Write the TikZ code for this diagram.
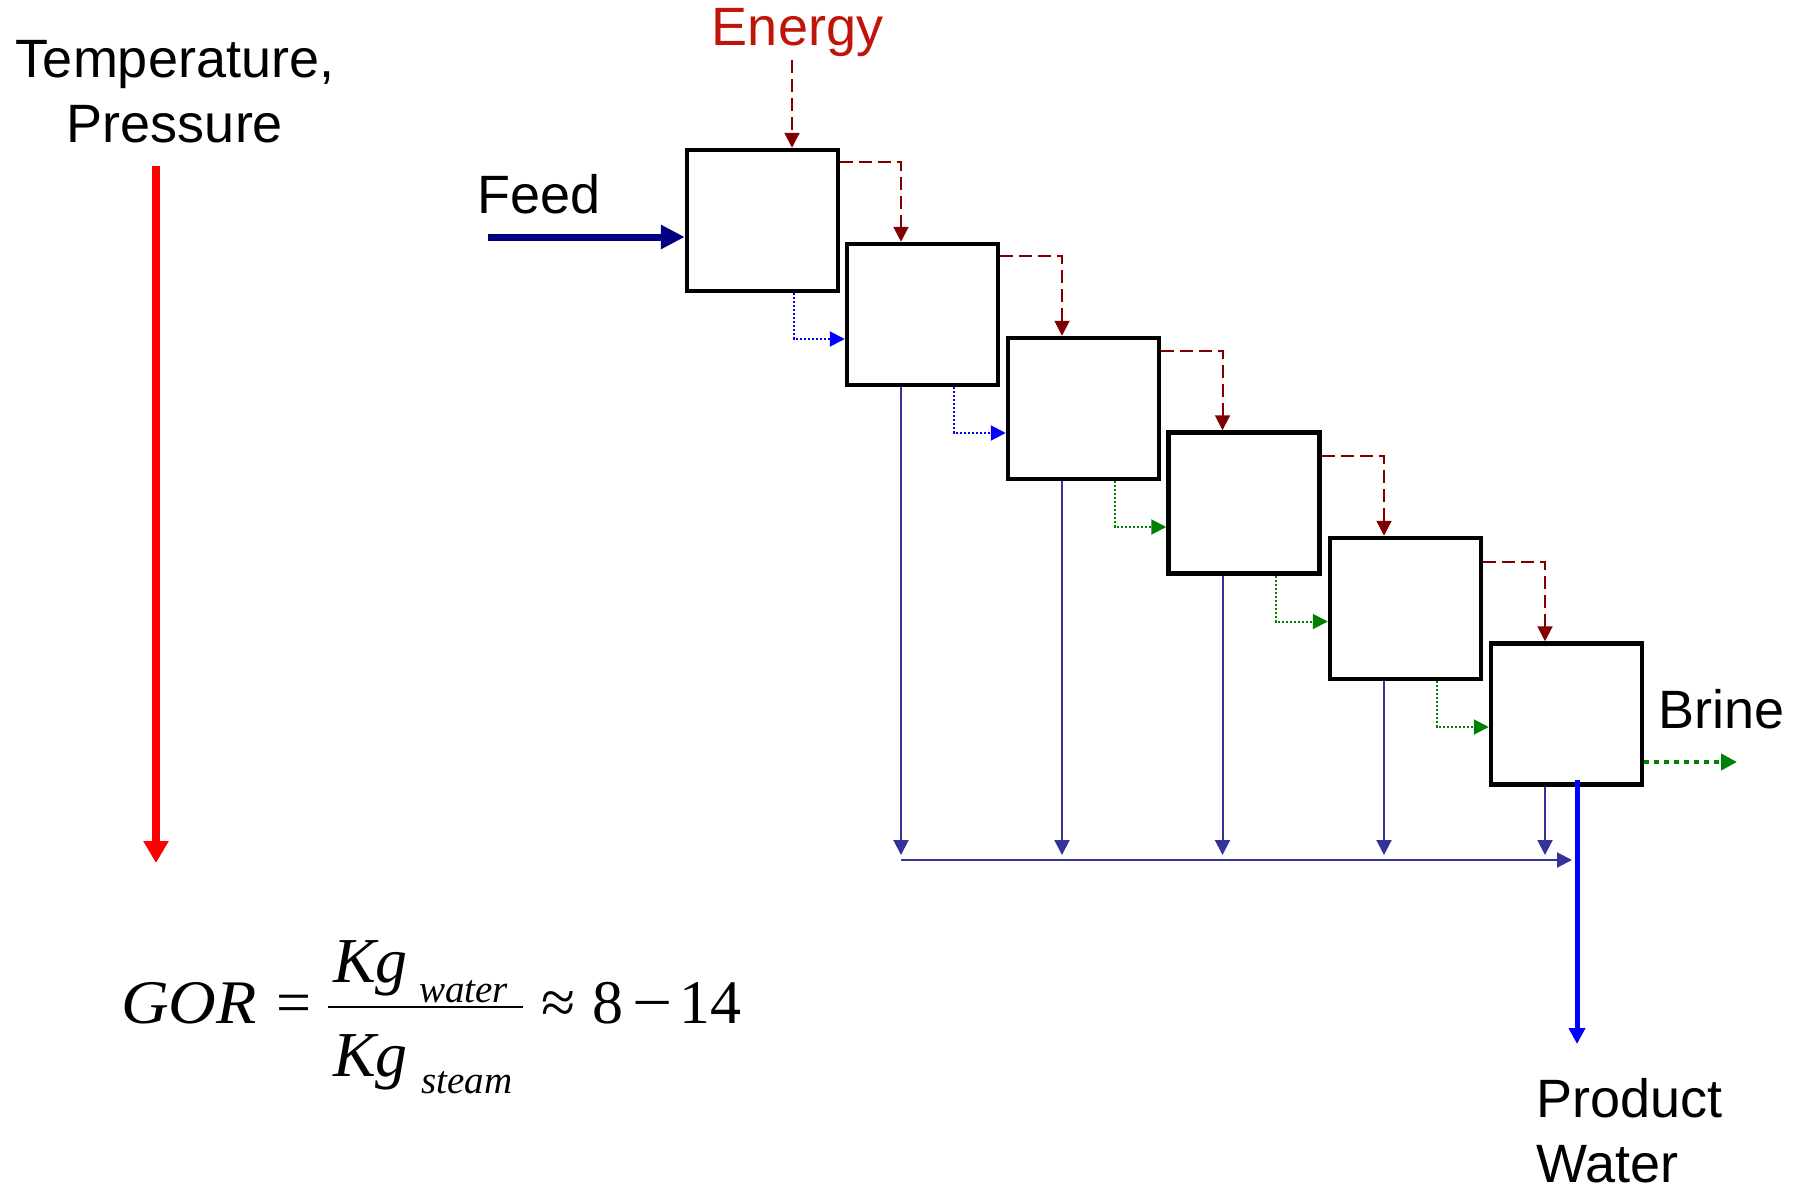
\documentclass[tikz,border=0pt]{standalone}
\usepackage{fontspec}
\setmainfont{Liberation Sans}
\newfontfamily\tnr{Liberation Serif}
\usetikzlibrary{arrows.meta,calc}
\definecolor{maroonE}{RGB}{128,0,0}
\definecolor{energytxt}{RGB}{192,20,10}
\definecolor{prodc}{RGB}{51,51,153}
\definecolor{feedc}{RGB}{0,0,128}
\definecolor{greenc}{RGB}{0,128,0}
\definecolor{bluec}{RGB}{0,0,255}
\definecolor{redc}{RGB}{255,0,0}
\begin{document}
\begin{tikzpicture}[x=1pt,y=-1pt,
  stage/.style={draw=black, line width=4.5pt, minimum width=151pt, minimum height=141pt, inner sep=0pt, fill=white},
  lbl/.style={inner sep=0pt, font=\fontsize{54}{65}\selectfont},
  frm/.style={inner sep=0pt, font=\tnr\fontsize{62}{62}\selectfont},
  frmit/.style={inner sep=0pt, font=\tnr\itshape\fontsize{62}{62}\selectfont},
  kgit/.style={inner sep=0pt, font=\tnr\itshape\fontsize{64}{64}\selectfont},
  subit/.style={inner sep=0pt, font=\tnr\itshape\fontsize{39}{39}\selectfont},
  smalltip/.style={-{Triangle[length=15pt,width=15pt]}},
  energyflow/.style={draw=maroonE, line width=2pt, dash pattern=on 13pt off 6pt, smalltip},
  bluedot/.style={draw=bluec, line width=2pt, dash pattern=on 2pt off 2pt, smalltip},
  greendot/.style={draw=greenc, line width=2pt, dash pattern=on 2pt off 2pt, smalltip},
  prodflow/.style={draw=prodc, line width=2pt, smalltip},
  brineflow/.style={draw=greenc, line width=4.5pt, dash pattern=on 5pt off 5pt, -{Triangle[length=16pt,width=16pt]}},
  feedflow/.style={draw=feedc, line width=7pt, -{Triangle[length=24pt,width=23pt]}},
  tpflow/.style={draw=redc, line width=8pt, -{Triangle[length=22pt,width=24pt]}},
  waterflow/.style={draw=bluec, line width=5pt, -{Triangle[length=16pt,width=16pt]}}
]
\fill[white] (0,0) rectangle (1799,1189);
\useasboundingbox (0,0) rectangle (1799,1189);

% stages
\node[stage] (b1) at (762.5,220.5) {};
\node[stage] (b2) at (922.5,314.5) {};
\node[stage] (b3) at (1083.5,408.5) {};
\node[stage] (b4) at (1244,503) {};
\node[stage] (b5) at (1405.5,608.5) {};
\node[stage] (b6) at (1566.5,714) {};

% labels (anchor base = baseline of the last line)
\node[lbl, align=center, anchor=base] (tp) at (175,142) {Temperature,\\Pressure};
\node[lbl, text=energytxt, anchor=base] (energy) at (797.5,45) {Energy};
\node[lbl, anchor=base west] (feed) at (477,213) {Feed};
\node[lbl, anchor=base west] (brine) at (1658,728) {Brine};
\node[lbl, align=left, anchor=base west] (pwater) at (1536,1182) {Product\\Water};

% helper coordinates
\foreach \i in {2,...,6} {
  \coordinate (k\i) at ($(b\i.center)+(-21.5,-152.5)$);
}
\foreach \i in {1,...,5} {
  \coordinate (d\i) at ($(b\i.center)+(31.5,118.5)$);
}
\coordinate (e0) at (792,60);
\coordinate (pl) at (901,855);
\coordinate (col) at (1572,860);
\coordinate (pw) at (1577,780);
\coordinate (pwend) at (1577,1044);
\coordinate (br) at (1737,762);
\coordinate (fs) at (488,237);
\coordinate (ts) at (156,166);
\coordinate (te) at (156,863);

% temperature / pressure arrow
\draw[tpflow] (ts) -- (te);

% feed
\draw[feedflow] (fs) -- (b1.west |- fs);

% energy
\draw[energyflow] (e0) -- (b1.north -| e0);
\draw[energyflow] (b1.east |- k2) -| (b2.north -| k2);
\draw[energyflow] (b2.east |- k3) -| (b3.north -| k3);
\draw[energyflow] (b3.east |- k4) -| (b4.north -| k4);
\draw[energyflow] (b4.east |- k5) -| (b5.north -| k5);
\draw[energyflow] (b5.east |- k6) -| (b6.north -| k6);

% brine between stages
\draw[bluedot] (b1.south -| d1) |- (b2.west |- d1);
\draw[bluedot] (b2.south -| d2) |- (b3.west |- d2);
\draw[greendot] (b3.south -| d3) |- (b4.west |- d3);
\draw[greendot] (b4.south -| d4) |- (b5.west |- d4);
\draw[greendot] (b5.south -| d5) |- (b6.west |- d5);

% product from each stage
\foreach \i in {2,...,6} {
  \draw[prodflow] (b\i.south -| k\i) -- (k\i |- pl);
}
\draw[prodflow] (k2 |- col) -- (col);

% product water and brine out
\draw[waterflow] (pw) -- (pwend);
\draw[brineflow] (b6.east |- br) -- (br);

% GOR formula
\node[frmit, anchor=base west] (gor) at (121,1023) {\scalebox{1.065}[1]{GOR}};
\node[frm, anchor=base] (eq) at (293.5,1023) {=};
\draw[line width=2.5pt] (328,1007) coordinate (fb1) -- (523,1007) coordinate (fb2);
\node[kgit, anchor=base west] (kgw) at (333,982) {Kg};
\node[subit, anchor=base west] (water) at (419,1002) {water};
\node[kgit, anchor=base west] (kgs) at (333,1076) {Kg};
\node[subit, anchor=base west] (steam) at (421,1093) {steam};
\node[frm, anchor=base] (approx) at (559,1023) {≈};
\node[frm, anchor=base] (eight) at (607.5,1023) {8};
\node[frm, anchor=base] (minus) at (652.5,1023) {\scalebox{1.15}[1]{−}};
\node[frm, anchor=base] (fourteen) at (710,1023) {14};
\end{tikzpicture}
\end{document}
